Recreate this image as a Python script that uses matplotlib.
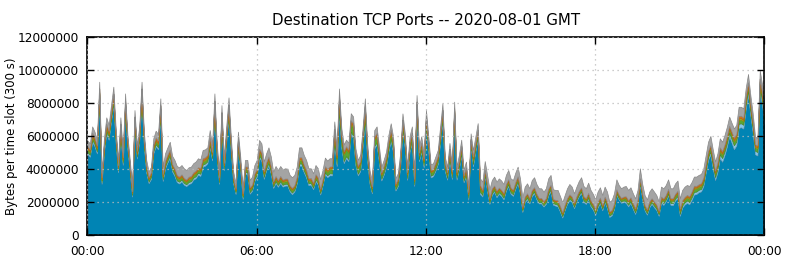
import numpy as np
import matplotlib
matplotlib.use("Agg")
import matplotlib.pyplot as plt
from matplotlib.ticker import FixedLocator, FuncFormatter

# total stacked height per 5-minute slot, in millions of bytes
total = [
    5.74, 5.57, 6.60, 6.28, 5.78, 9.31, 3.80, 5.88, 7.15, 6.69, 7.89, 9.01,
    6.48, 4.57, 7.15, 5.07, 8.60, 6.08, 4.57, 2.95, 7.59, 5.47, 6.58, 9.31,
    6.28, 4.57, 3.86, 4.16, 5.88, 6.34, 6.14, 8.30, 4.16, 4.97, 5.33, 5.67,
    4.82, 4.57, 4.20, 4.12, 4.26, 4.06, 3.96, 4.12, 4.16, 4.37, 4.47, 4.67,
    4.60, 5.17, 5.21, 5.33, 6.38, 5.47, 8.60, 5.57, 3.86, 7.89, 4.77, 6.58,
    8.36, 5.94, 3.86, 3.15, 6.28, 4.77, 2.85, 4.57, 4.57, 3.35, 3.56, 4.26,
    4.57, 5.78, 5.57, 4.47, 4.97, 5.33, 4.77, 3.86, 4.20, 3.96, 4.20, 4.00,
    4.06, 4.04, 3.66, 3.52, 3.66, 4.16, 5.33, 5.33, 4.87, 4.57, 4.06, 4.06,
    3.76, 4.26, 4.06, 3.40, 3.96, 4.71, 4.53, 4.67, 4.67, 6.90, 5.27, 8.90,
    6.50, 5.50, 5.80, 5.60, 7.40, 7.20, 5.27, 4.57, 4.87, 6.48, 8.30, 5.57,
    3.96, 3.30, 6.38, 6.60, 5.40, 4.16, 4.57, 5.07, 6.08, 6.79, 5.98, 3.45,
    3.76, 4.97, 7.39, 6.18, 4.16, 6.00, 6.60, 3.76, 8.50, 5.37, 6.00, 5.00,
    7.60, 6.00, 4.30, 4.37, 4.77, 5.17, 6.58, 8.00, 4.77, 4.16, 5.60, 4.20,
    8.10, 4.16, 4.87, 5.80, 3.96, 4.47, 3.00, 6.18, 5.17, 5.98, 6.80, 3.45,
    3.25, 4.50, 3.66, 2.80, 3.35, 3.56, 3.25, 3.45, 3.32, 3.11, 3.66, 3.96,
    3.45, 3.35, 3.80, 4.16, 3.45, 2.30, 2.95, 3.15, 2.85, 3.35, 3.52, 3.11,
    2.85, 2.85, 2.65, 2.85, 3.45, 3.66, 2.79, 2.75, 2.75, 2.38, 2.00, 2.44,
    2.85, 3.11, 2.95, 2.55, 2.95, 3.29, 3.52, 2.99, 2.85, 3.19, 2.75, 2.51,
    2.18, 2.65, 2.91, 2.44, 2.95, 2.65, 2.04, 2.14, 2.55, 3.39, 3.05, 2.85,
    2.95, 2.99, 2.75, 2.91, 2.55, 2.24, 2.75, 4.06, 3.11, 2.44, 2.18, 2.65,
    2.85, 2.65, 2.44, 2.04, 2.95, 2.85, 3.05, 3.39, 2.85, 2.85, 3.15, 3.32,
    2.24, 2.75, 2.95, 3.05, 2.99, 3.23, 3.56, 3.56, 3.66, 3.72, 4.06, 4.87,
    5.67, 6.02, 5.21, 4.47, 4.97, 5.88, 5.67, 6.08, 6.58, 7.19, 6.82, 6.48,
    6.69, 7.79, 7.79, 7.69, 8.91, 9.78, 8.50, 7.39, 5.98, 5.90, 10.0, 9.11,
    7.90,
]

light_blue = [
    .12, .12, .14, .13, .12, .16, .10, .12, .14, .13, .14, .15,
    .13, .11, .14, .12, .15, .13, .11, .09, .14, .12, .13, .16,
    .13, .11, .10, .11, .13, .13, .13, .15, .11, .12, .12, .13,
    .12, .12, .11, .11, .12, .11, .11, .12, .12, .12, .12, .13,
    .13, .13, .13, .13, .14, .13, .16, .13, .10, .15, .12, .14,
    .16, .14, .10, .09, .14, .12, .09, .12, .12, .10, .10, .12,
    .12, .14, .13, .12, .12, .13, .12, .10, .11, .11, .11, .11,
    .11, .11, .10, .10, .10, .11, .13, .13, .12, .12, .11, .11,
    .10, .11, .11, .09, .10, .12, .12, .12, .12, .15, .13, .16,
    .14, .13, .13, .13, .15, .15, .12, .11, .12, .14, .16, .13,
    .10, .09, .14, .14, .13, .11, .12, .12, .14, .14, .13, .09,
    .10, .12, .15, .13, .11, .13, .14, .10, .16, .12, .13, .12,
    .15, .13, .11, .11, .12, .12, .14, .16, .12, .11, .13, .11,
    .16, .11, .12, .13, .10, .12, .11, .08, .14, .13, .13, .14,
    .10, .09, .12, .09, .10, .10, .10, .10, .10, .10, .11, .11,
    .10, .10, .11, .11, .10, .08, .09, .10, .09, .10, .10, .10,
    .09, .09, .09, .10, .11, .11, .10, .10, .10, .10, .09, .09,
    .10, .10, .09, .09, .08, .09, .10, .10, .10, .10, .10, .10,
    .09, .10, .10, .09, .09, .10, .09, .09, .10, .09, .08, .08,
    .09, .11, .10, .10, .10, .10, .09, .10, .09, .09, .09, .10,
    .10, .10, .09, .08, .10, .11, .10, .10, .11, .12, .12, .12,
    .12, .12, .13, .14, .14, .15, .16, .15, .14, .15, .16, .16,
    .17, .18, .19, .18, .20, .21, .22, .22, .22, .21, .22, .24,
    .24, .25, .24, .23, .26, .27, .25, .23, .21, .21, .28, .26,
    .24,
]

green = [
    .16, .15, .18, .17, .16, .20, .12, .16, .18, .17, .19, .20,
    .17, .14, .18, .15, .20, .16, .14, .10, .19, .15, .17, .21,
    .17, .14, .12, .13, .17, .18, .17, .20, .14, .15, .16, .16,
    .15, .15, .15, .14, .15, .14, .14, .15, .15, .16, .16, .16,
    .17, .18, .18, .18, .20, .18, .22, .18, .13, .21, .15, .19,
    .22, .18, .13, .11, .19, .15, .11, .16, .16, .13, .14, .16,
    .17, .20, .19, .17, .18, .19, .17, .14, .15, .14, .15, .15,
    .15, .14, .13, .14, .14, .14, .18, .18, .17, .16, .15, .15,
    .14, .15, .15, .12, .14, .18, .20, .22, .25, .40, .35, .50,
    .45, .40, .40, .38, .45, .50, .35, .30, .32, .40, .45, .35,
    .24, .20, .35, .35, .30, .22, .25, .26, .30, .32, .28, .18,
    .20, .22, .28, .24, .20, .24, .26, .18, .30, .22, .24, .22,
    .28, .22, .18, .18, .20, .20, .25, .28, .20, .18, .22, .18,
    .28, .18, .20, .22, .16, .20, .18, .13, .24, .20, .22, .22,
    .16, .14, .18, .14, .15, .14, .15, .15, .14, .14, .15, .16,
    .14, .14, .15, .16, .14, .12, .13, .14, .13, .14, .14, .13,
    .13, .13, .12, .13, .15, .15, .13, .13, .14, .13, .12, .12,
    .13, .14, .12, .12, .11, .12, .13, .13, .13, .14, .14, .13,
    .12, .13, .13, .12, .12, .14, .12, .12, .13, .12, .11, .11,
    .12, .15, .14, .13, .13, .13, .12, .13, .12, .12, .12, .13,
    .13, .13, .12, .11, .13, .14, .14, .14, .15, .15, .15, .16,
    .16, .16, .17, .17, .18, .18, .19, .18, .17, .18, .18, .18,
    .19, .20, .20, .19, .20, .21, .21, .20, .21, .21, .22, .22,
    .22, .23, .22, .21, .23, .24, .22, .21, .20, .20, .25, .24,
    .22,
]

olive = [
    .07, .07, .08, .08, .07, .10, .06, .07, .09, .08, .09, .10,
    .08, .07, .09, .07, .10, .08, .07, .05, .09, .07, .08, .10,
    .08, .07, .06, .07, .08, .08, .08, .10, .07, .07, .07, .08,
    .07, .07, .07, .07, .07, .06, .06, .07, .07, .07, .07, .07,
    .07, .08, .08, .08, .09, .08, .11, .08, .06, .10, .07, .09,
    .10, .08, .06, .05, .09, .07, .05, .07, .07, .06, .06, .07,
    .07, .08, .08, .07, .07, .08, .07, .06, .07, .06, .07, .07,
    .07, .07, .06, .06, .06, .06, .08, .08, .07, .07, .06, .06,
    .06, .07, .07, .06, .06, .08, .08, .08, .08, .10, .08, .11,
    .09, .08, .08, .08, .10, .10, .08, .07, .07, .09, .11, .08,
    .06, .05, .09, .09, .08, .06, .07, .07, .08, .09, .08, .05,
    .06, .07, .09, .08, .06, .08, .08, .06, .10, .07, .08, .07,
    .09, .08, .06, .06, .07, .07, .08, .10, .07, .06, .08, .06,
    .10, .06, .07, .08, .06, .07, .07, .05, .08, .07, .08, .08,
    .06, .05, .07, .05, .06, .06, .06, .06, .06, .06, .06, .06,
    .06, .06, .06, .06, .06, .05, .05, .06, .05, .06, .06, .05,
    .05, .05, .05, .05, .06, .06, .05, .05, .06, .05, .05, .05,
    .05, .06, .05, .05, .05, .05, .05, .05, .05, .06, .06, .05,
    .05, .05, .05, .05, .05, .06, .05, .05, .05, .05, .05, .05,
    .05, .06, .06, .05, .05, .05, .05, .05, .05, .05, .05, .05,
    .05, .05, .05, .05, .05, .06, .06, .06, .06, .06, .06, .07,
    .07, .07, .07, .07, .07, .07, .08, .07, .07, .07, .08, .08,
    .08, .08, .08, .08, .08, .09, .09, .09, .09, .09, .09, .10,
    .10, .10, .10, .09, .10, .11, .10, .09, .08, .08, .11, .10,
    .09,
]

orange = [
    .12, .12, .16, .14, .12, .22, .10, .13, .17, .15, .18, .22,
    .15, .11, .17, .12, .20, .14, .11, .08, .18, .13, .15, .22,
    .15, .11, .09, .10, .14, .15, .15, .20, .10, .12, .12, .13,
    .11, .11, .10, .10, .10, .10, .09, .10, .10, .10, .11, .11,
    .11, .12, .12, .12, .14, .12, .18, .12, .09, .16, .11, .14,
    .17, .13, .09, .08, .13, .11, .08, .11, .11, .09, .09, .10,
    .11, .12, .12, .11, .11, .12, .11, .09, .10, .09, .10, .10,
    .10, .10, .09, .09, .09, .10, .12, .12, .11, .11, .10, .10,
    .09, .10, .10, .08, .09, .11, .11, .11, .11, .14, .12, .17,
    .13, .12, .12, .12, .14, .14, .11, .10, .11, .13, .16, .12,
    .09, .08, .13, .13, .12, .09, .10, .11, .12, .13, .12, .08,
    .09, .11, .14, .12, .09, .12, .13, .09, .16, .11, .12, .11,
    .14, .12, .10, .10, .11, .11, .13, .15, .11, .10, .12, .10,
    .15, .10, .11, .12, .09, .11, .10, .07, .13, .11, .12, .12,
    .08, .07, .09, .07, .08, .08, .08, .08, .08, .08, .08, .09,
    .08, .08, .08, .09, .08, .06, .07, .08, .07, .08, .08, .07,
    .07, .07, .07, .07, .08, .08, .07, .07, .08, .07, .07, .07,
    .07, .08, .07, .07, .06, .07, .07, .07, .07, .08, .08, .07,
    .07, .07, .07, .07, .07, .08, .07, .07, .07, .07, .06, .06,
    .07, .08, .08, .07, .07, .07, .07, .07, .07, .07, .07, .07,
    .07, .07, .07, .06, .07, .08, .08, .08, .08, .09, .09, .09,
    .09, .09, .10, .10, .10, .10, .11, .10, .10, .10, .11, .11,
    .11, .12, .12, .12, .12, .13, .13, .13, .13, .13, .13, .14,
    .14, .15, .14, .14, .15, .16, .15, .14, .12, .12, .17, .16,
    .14,
]

gray = [
    .35, .35, .38, .36, .35, .42, .30, .35, .38, .37, .40, .42,
    .38, .32, .40, .34, .42, .36, .32, .28, .40, .35, .37, .42,
    .38, .34, .33, .34, .40, .40, .40, .42, .45, .45, .45, .46,
    .50, .52, .55, .56, .56, .58, .58, .57, .56, .55, .55, .54,
    .52, .50, .48, .46, .44, .42, .45, .42, .36, .44, .38, .42,
    .45, .42, .36, .32, .42, .38, .32, .40, .40, .45, .48, .52,
    .55, .52, .56, .58, .56, .55, .58, .60, .60, .62, .60, .62,
    .62, .60, .62, .64, .62, .62, .60, .60, .58, .60, .60, .58,
    .58, .55, .55, .58, .55, .52, .50, .50, .48, .45, .40, .45,
    .42, .40, .40, .40, .42, .42, .38, .36, .36, .40, .42, .38,
    .36, .34, .40, .40, .38, .36, .36, .36, .38, .38, .36, .34,
    .34, .36, .38, .36, .34, .36, .38, .34, .40, .36, .37, .36,
    .40, .36, .34, .34, .36, .36, .38, .40, .36, .34, .36, .34,
    .40, .34, .36, .38, .34, .36, .38, .34, .40, .38, .40, .40,
    .50, .52, .55, .55, .52, .54, .55, .55, .56, .55, .56, .56,
    .56, .58, .57, .58, .56, .58, .60, .60, .58, .60, .60, .58,
    .58, .58, .58, .60, .62, .60, .58, .60, .62, .60, .60, .58,
    .60, .62, .60, .58, .58, .60, .62, .62, .60, .62, .62, .60,
    .60, .62, .62, .60, .60, .62, .60, .60, .62, .60, .58, .58,
    .60, .62, .62, .60, .60, .60, .58, .60, .60, .60, .60, .60,
    .60, .60, .58, .56, .60, .62, .60, .58, .60, .60, .62, .62,
    .62, .62, .62, .60, .62, .58, .55, .56, .56, .56, .55, .55,
    .55, .55, .56, .55, .54, .55, .56, .58, .56, .55, .54, .56,
    .55, .55, .54, .55, .52, .50, .52, .50, .46, .45, .50, .48,
    .45,
]

hour_ticks = [0, 6, 12, 18, 24]
hour_labels = ["00:00", "06:00", "12:00", "18:00", "00:00"]
y_ticks = [0, 2000000, 4000000, 6000000, 8000000, 10000000, 12000000]

# 5-minute slots, x in hours
t = np.arange(len(total)) / 12.0
scale = 1e6
others = [np.array(s) for s in (light_blue, green, olive, orange, gray)]
blue = np.array(total) - sum(others)
layers = [blue * scale] + [s * scale for s in others]
colors = ["#0084b4", "#86c6e8", "#5aa632", "#a8a820", "#d2731e", "#a4a4a4"]
edges = ["#1f5f7a", "#6aa6c8", "#4a8a2a", "#909010", "#b06018", "#888888"]

fig = plt.figure(figsize=(7.86, 2.6), dpi=100)
ax = fig.add_axes([0.1113, 0.095, 0.8613, 0.7615])

polys = ax.stackplot(t, *layers, colors=colors, linewidth=0)
for p, ec in zip(polys, edges):
    p.set_edgecolor(ec)
    p.set_linewidth(0.5)

ax.set_xlim(0, 24)
ax.set_ylim(0, 12000000)
ax.xaxis.set_major_locator(FixedLocator(hour_ticks))
ax.set_xticklabels(hour_labels)
ax.yaxis.set_major_locator(FixedLocator(y_ticks))
ax.yaxis.set_major_formatter(FuncFormatter(lambda v, p: "%d" % v))

ax.grid(True, color="#bcbcbc", linestyle=(0, (1, 3)), linewidth=0.9)
ax.set_axisbelow(False)
ax.tick_params(direction="in", length=5, width=1, top=True, right=True,
               labelsize=8.7, colors="black")
ax.tick_params(axis="x", pad=7)
ax.tick_params(axis="y", pad=6)
for s in ax.spines.values():
    s.set_linewidth(1.2)

ax.set_ylabel("Bytes per time slot (300 s)", fontsize=8.5)
ax.yaxis.set_label_coords(-0.103, 0.5)
ax.set_title("Destination TCP Ports -- 2020-08-01 GMT", fontsize=10.8, pad=9)

fig.savefig("out.png", dpi=100)
